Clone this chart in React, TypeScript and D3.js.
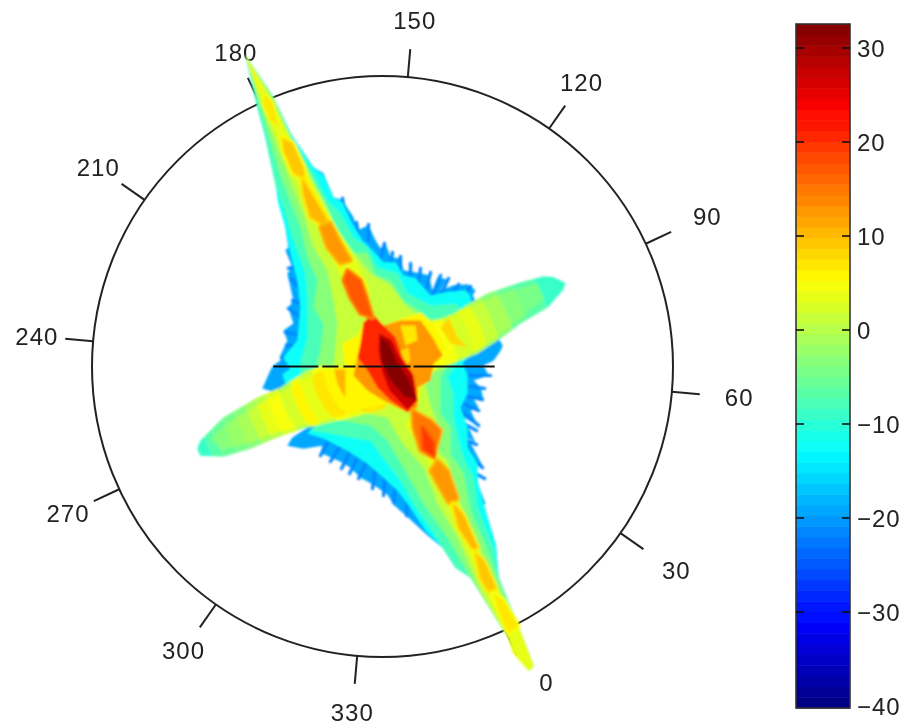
import React from "react";
import * as d3 from "d3";

type P = [number, number];

const angleLabels = [0, 30, 60, 90, 120, 150, 180, 210, 240, 270, 300, 330];
const colorTicks = [30, 20, 10, 0, -10, -20, -30, -40];
const levelCount = d3.range(64);

const blueOutline: P[] = [[-137,311],[-109,269],[-92,233],[-69,199],[-59,193],[-49,169],[-40,166],[-29,149],[-25,136],[-14,141],[-7,126],[-2,118],[3,123],[8,109],[18,108],[21,96],[38,93],[46,91],[50,76],[55,89],[64,87],[58,76],[71,81],[85,82],[93,76],[90,71],[120,21],[118,16],[111,6],[101,1],[106,-9],[91,-14],[98,-21],[101,-34],[90,-31],[96,-41],[88,-44],[95,-59],[81,-51],[93,-76],[85,-71],[101,-101],[91,-94],[95,-111],[95,-117],[103,-137],[98,-141],[113,-177],[116,-211],[135,-257],[151,-299],[146,-304],[121,-264],[88,-211],[73,-201],[60,-181],[43,-167],[28,-153],[11,-138],[5,-128],[-9,-118],[-22,-111],[-32,-101],[-42,-95],[-62,-86],[-60,-79],[-79,-82],[-95,-79],[-90,-71],[-69,-57],[-82,-34],[-120,-22],[-112,-4],[-109,1],[-102,6],[-102,11],[-95,26],[-99,36],[-89,43],[-94,59],[-89,66],[-95,93],[-90,99],[-97,116],[-94,119],[-97,139],[-102,163],[-107,183],[-117,229],[-125,259]];
const blueSpikes: number[][] = [
  [-37,151,-40,168],[-24,131,-26,144],[-14,126,-14,142],[-2,108,2,123],[8,101,10,114],[18,98,18,110],[28,88,28,103],[36,81,38,98],[43,74,48,94],[50,71,58,91],[58,71,66,88],[66,68,76,82],[78,68,88,80],
  [83,-9,108,-9],[83,-19,102,-22],[80,-29,100,-33],[80,-37,96,-44],[78,-44,96,-59],[76,-54,94,-64],[78,-71,94,-78],[80,-84,100,-101],[88,-104,102,-112],
  [-82,101,-94,98],[-80,76,-92,88],[-77,61,-90,66],[-77,46,-94,58],[-77,31,-97,34],[-79,21,-96,21],[-84,11,-101,9],
  [-52,-71,-62,-89],[-42,-79,-52,-95],[-32,-84,-41,-102],[-24,-89,-33,-107],[-16,-96,-24,-112],[-7,-102,-10,-122],[3,-107,1,-129],[13,-119,11,-136],[25,-130,24,-149],
];
const cyanBand: P[] = [[-137,311],[-109,269],[-92,233],[-69,199],[-59,191],[-49,169],[-40,164],[-31,144],[-20,126],[-10,116],[1,104],[13,104],[21,91],[33,88],[48,71],[63,74],[83,76],[88,70],[90,16],[80,3],[85,-9],[85,-27],[78,-41],[85,-61],[85,-81],[95,-97],[95,-114],[101,-137],[113,-177],[116,-211],[135,-257],[151,-299],[146,-304],[121,-264],[88,-211],[73,-201],[60,-181],[43,-164],[25,-137],[15,-124],[1,-111],[-15,-97],[-35,-84],[-59,-72],[-75,-67],[-62,-54],[-82,-34],[-95,-22],[-100,-8],[-92,-2],[-99,9],[-85,26],[-82,59],[-85,86],[-92,113],[-97,139],[-104,163],[-107,183],[-117,229],[-125,259]];
const tealBand: P[] = [[-137,311],[-109,269],[-92,233],[-69,193],[-55,166],[-42,153],[-29,129],[-15,119],[-5,99],[15,93],[25,73],[48,61],[75,63],[85,30],[80,12],[65,-11],[71,-27],[71,-51],[78,-81],[81,-91],[91,-111],[95,-141],[111,-181],[116,-211],[135,-257],[151,-299],[146,-304],[121,-264],[88,-211],[73,-201],[60,-181],[48,-161],[35,-144],[18,-114],[5,-97],[-12,-74],[-32,-71],[-52,-67],[-72,-64],[-52,-44],[-82,-19],[-82,4],[-75,29],[-75,66],[-77,93],[-89,126],[-99,159],[-107,183],[-117,229],[-125,259]];
const greenBand: P[] = [[-137,311],[-109,269],[-92,229],[-75,199],[-62,169],[-45,136],[-29,113],[-15,113],[-7,91],[8,86],[21,66],[48,48],[83,41],[78,16],[58,-9],[58,-47],[68,-61],[68,-87],[81,-107],[88,-144],[101,-174],[115,-211],[135,-257],[151,-299],[146,-304],[121,-264],[88,-211],[65,-171],[41,-137],[21,-101],[5,-74],[-12,-59],[-42,-54],[-62,-49],[-72,-24],[-62,16],[-59,43],[-69,59],[-65,86],[-75,109],[-82,139],[-102,191],[-117,241],[-125,269]];
const limeRidge: P[] = [[-137,311],[-104,253],[-82,209],[-59,166],[-45,136],[-25,109],[-12,93],[8,81],[23,61],[48,41],[58,11],[43,-19],[48,-39],[58,-64],[55,-84],[65,-94],[78,-137],[98,-184],[113,-217],[135,-257],[151,-299],[146,-304],[121,-264],[98,-224],[75,-171],[55,-137],[41,-101],[18,-74],[5,-51],[-22,-46],[-52,-39],[-45,43],[-49,66],[-55,96],[-69,119],[-79,153],[-95,193],[-114,243],[-124,269]];
const yellowSpineNW: P[] = [[-137,311],[-110,266],[-87,216],[-67,176],[-47,141],[-27,106],[-14,81],[-12,56],[-42,91],[-57,119],[-79,173],[-99,216],[-120,263],[-132,296]];
const yellowSpineSE: P[] = [[30,-44],[50,-59],[50,-84],[70,-124],[93,-179],[113,-219],[135,-257],[151,-299],[146,-304],[130,-286],[123,-264],[103,-224],[83,-179],[58,-124],[43,-89],[23,-59]];

const swLobe: P[] = [[-185,-82],[-182,-89],[-159,-90],[-132,-82],[-105,-71],[-79,-62],[-52,-56],[-22,-49],[3,-42],[8,-4],[-59,1],[-75,-4],[-102,-21],[-125,-31],[-159,-51],[-182,-74]];
const swCore: P[] = [[-160,-83],[-132,-76],[-102,-65],[-52,-52],[3,-38],[3,-4],[-57,-3],[-78,-12],[-117,-34],[-150,-54],[-172,-72]];
const neLobe: P[] = [[183,83],[180,76],[165,59],[138,43],[118,28],[95,13],[71,3],[48,-6],[13,-6],[13,46],[51,46],[71,53],[88,64],[105,73],[138,84],[161,90],[171,89]];
const neCore: P[] = [[162,68],[135,46],[112,28],[82,9],[48,-2],[18,-2],[18,40],[58,46],[88,60],[118,73],[155,83]];

const swRadii = [206,191,182,168,155,142,131,120,106,94,83,71,59,48,35,22,0];
const swValues = [-6,-4.5,-3.5,-2,-0.5,1,3,4.5,2,6,3.5,7,6,10,13,10];
const neRadii = [205,174,152,135,119,106,91,75,0];
const neValues = [-6,-4.5,-3,-1,1.5,3,2,4.5];

const bodyYellow: P[] = [[-40,23],[-25,31],[-19,44],[-10,53],[1,41],[20,48],[38,54],[50,43],[63,18],[46,-14],[38,-19],[35,-41],[25,-46],[5,-37],[-12,-42],[-35,-44],[-37,-34],[-37,-4]];
const bodyOrange: P[] = [[-25,9],[-20,23],[-19,44],[1,41],[18,46],[38,46],[50,29],[60,11],[51,3],[48,-14],[35,-21],[35,-41],[25,-46],[1,-34],[-15,-24],[-29,-9]];
const spotA: P[] = [[18,41],[33,41],[35,26],[23,21]];
const spotB: P[] = [[18,16],[26,19],[28,6],[22,0]];
const spotC: P[] = [[66,49],[75,29],[85,19],[68,23],[58,39]];
const bodyRed: P[] = [[-19,44],[-10,53],[1,41],[13,29],[20,9],[30,-7],[35,-34],[25,-46],[8,-34],[-5,-21],[-15,-4],[-25,9],[-22,23]];
const bodyDark: P[] = [[-3,33],[9,27],[18,8],[31,-9],[35,-34],[25,-43],[7,-24],[0,-6],[-4,16]];
const bodyDarkest: P[] = [[-3,30],[6,24],[15,4],[27,-14],[33,-33],[21,-29],[7,-12],[-1,6]];

const nwPatch1: P[] = [[-117,271],[-110,263],[-104,239],[-112,246],[-119,263]];
const nwPatch2: P[] = [[-100,228],[-90,223],[-79,199],[-77,186],[-89,193],[-99,216]];
const nwPatch3: P[] = [[-80,188],[-67,166],[-55,146],[-59,141],[-72,149],[-79,173]];
const nwPatch4: P[] = [[-62,139],[-52,143],[-42,123],[-32,106],[-42,103],[-55,119]];
const nwPatch5: P[] = [[-35,96],[-22,86],[-15,66],[-10,49],[-22,53],[-32,69],[-39,86]];
const sePatch1: P[] = [[30,-44],[48,-54],[58,-64],[51,-91],[38,-84],[31,-61]];
const sePatch1b: P[] = [[40,-61],[51,-77],[51,-89],[41,-82]];
const sePatch2: P[] = [[55,-94],[65,-104],[75,-132],[66,-136],[55,-117],[48,-104]];
const sePatch3: P[] = [[70,-137],[80,-147],[95,-181],[90,-182],[76,-161]];
const sePatch4: P[] = [[93,-187],[101,-194],[113,-221],[106,-224],[98,-211]];
const sePatch5: P[] = [[111,-227],[121,-234],[135,-259],[126,-266],[116,-244]];

const beforeLobes: [P[], number][] = [
  [cyanBand, -12.5], [tealBand, -8], [greenBand, -3.5],
  [limeRidge, 1], [yellowSpineNW, 4], [yellowSpineSE, 4],
];
const centreLayers: [P[], number][] = [
  [bodyYellow, 6], [bodyOrange, 13], [spotA, 7], [spotB, 8], [spotC, 8], [bodyRed, 21], [bodyDark, 27], [bodyDarkest, 32.5],
];
const ridgePatches: [P[], number][] = [
  [nwPatch1, 7], [nwPatch2, 9], [nwPatch3, 10.5], [nwPatch4, 13], [nwPatch5, 17],
  [sePatch1, 15], [sePatch1b, 20], [sePatch2, 13], [sePatch3, 10.5], [sePatch4, 9.5], [sePatch5, 7.5],
];
const axisDashes: P[] = [[-109,-64],[-60,-44],[-39,-27],[-24,0],[1,28],[31,112]];

const cx = 382.5, cy = 366.5, R = 290.5;
const x = d3.scaleLinear().domain([-290, 290]).range([cx - R, cx + R]);
const y = d3.scaleLinear().domain([-290, 290]).range([cy + R, cy - R]);
const rad = d3.scaleLinear().domain([0, 290]).range([0, R]);
const line = d3.line<P>().x((d) => x(d[0])).y((d) => y(d[1])).curve(d3.curveLinearClosed);

const clamp = (v: number) => Math.max(0, Math.min(1, v));
const jet = (t: number) => d3.rgb(255 * clamp(1.5 - Math.abs(4 * t - 3)), 255 * clamp(1.5 - Math.abs(4 * t - 2)), 255 * clamp(1.5 - Math.abs(4 * t - 1))).formatHex();
const jetLevels = levelCount.map((i) => jet((i + 0.5) / 64));
const zMin = -40.2, zMax = 32.5;
const color = d3.scaleQuantize<string>().domain([zMin, zMax]).range(jetLevels);

const barY = d3.scaleLinear().domain([-40, 30]).range([706, 48]);
const barBand = d3.scaleBand<number>().domain(levelCount).range([708, 24]);
const barLeft = 796, barRight = 850;

const ang = (deg: number) => ((deg - 65) * Math.PI) / 180;
const font = "'Liberation Sans', Arial, sans-serif";
const labelNudge = (a: number): P => (a === 0 ? [14, -6] : a <= 90 ? [3, 0] : a === 150 ? [2, 0] : [0, 0]);

function Bands({ id, shape, core, radii, values }: { id: string; shape: P[]; core: P[]; radii: number[]; values: number[] }) {
  const arc = d3.arc();
  const rings = (offset: number, clip: string) =>
    values.map((v, i) => (
      <path key={clip + i} clipPath={`url(#${clip})`} transform={`translate(${cx},${cy})`} fill={color(v + offset)}
        d={arc({ innerRadius: rad(radii[i + 1]), outerRadius: rad(radii[i]), startAngle: 0, endAngle: 2 * Math.PI } as any) || ""} />
    ));
  return (
    <g>
      <clipPath id={id + "o"} transform={`translate(${-cx},${-cy})`}><path d={line(shape) || ""} /></clipPath>
      <clipPath id={id + "c"} transform={`translate(${-cx},${-cy})`}><path d={line(core) || ""} /></clipPath>
      {rings(-2.5, id + "o")}
      {rings(0, id + "c")}
    </g>
  );
}

export default function App() {
  return (
    <svg width={909} height={728} style={{ position: "fixed", left: 0, top: 0, background: "#fff" }}>
      <defs>
        <filter id="soft" x="-5%" y="-5%" width="110%" height="110%"><feGaussianBlur stdDeviation="1.1" /></filter>
        <filter id="crisp" x="-5%" y="-5%" width="110%" height="110%"><feGaussianBlur stdDeviation="0.45" /></filter>
      </defs>
      <g filter="url(#crisp)">
        <circle cx={cx} cy={cy} r={R} fill="none" stroke="#222" strokeWidth={2} />
        {angleLabels.map((a) => {
          const c = Math.cos(ang(a)), s = Math.sin(ang(a));
          const lr = String(a).length < 3 ? 355 : 347;
          const [nx, ny] = labelNudge(a);
          return (
            <g key={a}>
              <line x1={cx + R * c} y1={cy - R * s} x2={cx + (R + 28) * c} y2={cy - (R + 28) * s} stroke="#222" strokeWidth={2} />
              <text x={cx + lr * c + nx} y={cy - lr * s + ny} dy="0.36em" textAnchor="middle" fontFamily={font} fontSize={24} letterSpacing={1} fill="#222">{a}</text>
            </g>
          );
        })}
      </g>
      <g filter="url(#soft)">
        <path d={line(blueOutline) || ""} fill={color(-19)} />
        {blueSpikes.map((s, i) => (
          <line key={i} x1={x(s[0])} y1={y(s[1])} x2={x(s[2])} y2={y(s[3])} stroke={color(-21)} strokeWidth={3.2} strokeLinecap="round" />
        ))}
        {beforeLobes.map(([poly, v], i) => <path key={i} d={line(poly) || ""} fill={color(v)} />)}
        <Bands id="sw" shape={swLobe} core={swCore} radii={swRadii} values={swValues} />
        <Bands id="ne" shape={neLobe} core={neCore} radii={neRadii} values={neValues} />
        {centreLayers.map(([poly, v], i) => <path key={i} d={line(poly) || ""} fill={color(v)} />)}
        {ridgePatches.map(([poly, v], i) => (
          <path key={i} d={line(poly) || ""} fill={color(v)} stroke={color(v - 3)} strokeWidth={5} strokeLinejoin="round" paintOrder="stroke" />
        ))}
      </g>
      <g filter="url(#crisp)">
        {axisDashes.map(([a, b], i) => (
          <line key={i} x1={x(a)} x2={x(b)} y1={y(0)} y2={y(0)} stroke="#111" strokeWidth={2} />
        ))}
        {levelCount.map((i) => (
          <rect key={i} x={barLeft} width={barRight - barLeft} y={barBand(i)!} height={barBand.bandwidth() + 0.5} fill={jetLevels[i]} />
        ))}
        <rect x={barLeft} y={24} width={barRight - barLeft} height={684} fill="none" stroke="#333" strokeWidth={1.6} />
        {colorTicks.map((t) => (
          <g key={t}>
            {t > -40 && <line x1={barLeft} x2={barLeft + 8} y1={barY(t)} y2={barY(t)} stroke="#111" strokeWidth={1.6} />}
            {t > -40 && <line x1={barRight - 8} x2={barRight} y1={barY(t)} y2={barY(t)} stroke="#111" strokeWidth={1.6} />}
            <text x={857} y={barY(t)} dy="0.36em" fontFamily={font} fontSize={24} letterSpacing={1} fill="#222">{t < 0 ? `\u2212${-t}` : t}</text>
          </g>
        ))}
      </g>
    </svg>
  );
}
